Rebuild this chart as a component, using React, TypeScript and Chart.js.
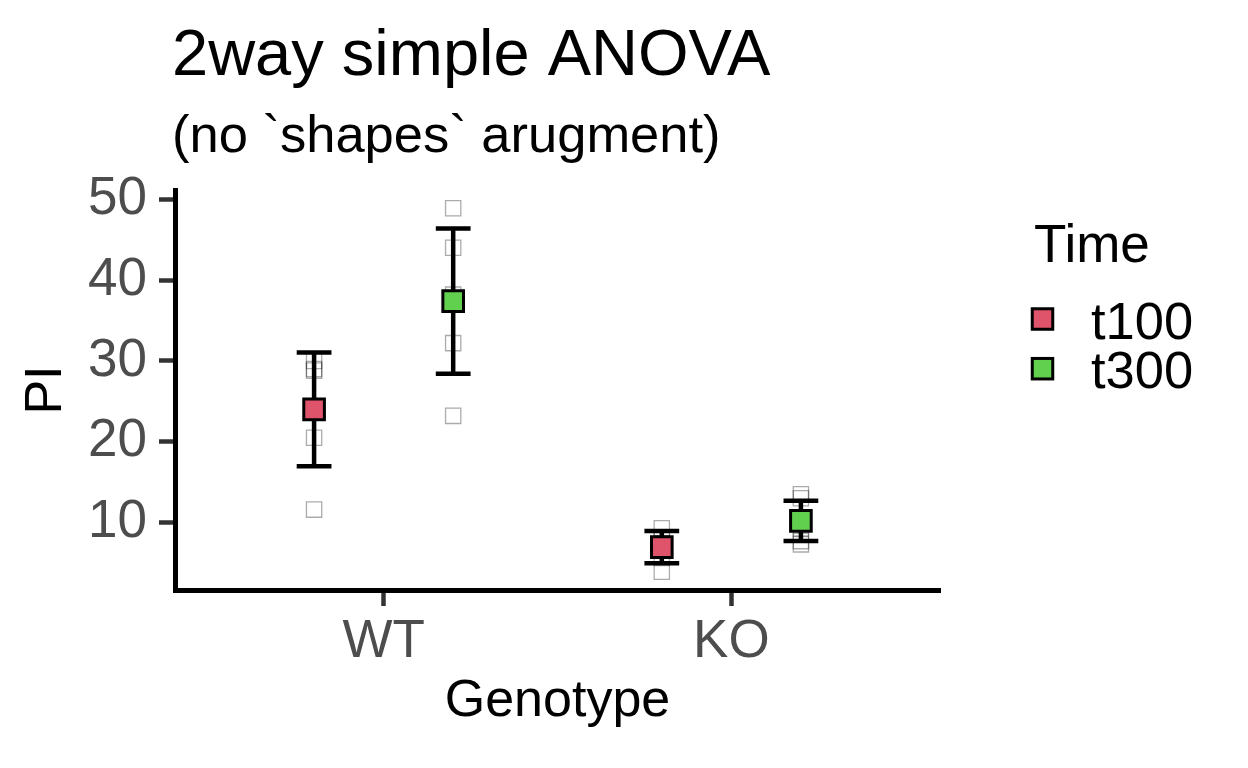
import React, { useEffect, useRef } from 'react';
import { Chart, registerables } from 'chart.js';

Chart.register(...registerables);

// ---- text ----
const titleText = '2way simple ANOVA';
const subtitleText = '(no `shapes` arugment)';
const xTitle = 'Genotype';
const yTitle = 'PI';
const legendTitle = 'Time';

// ---- categories ----
const genotypes = ['WT', 'KO'];
const times = ['t100', 't300'];
const timeColors = ['#DF536B', '#61D04F'];
const yTicks = [10, 20, 30, 40, 50];

// ---- raw observations (per genotype) ----
const wtT100 = [30.0, 29.0, 28.8, 24.0, 20.5, 11.6];
const koT100 = [9.3, 8.0, 7.4, 6.5, 5.6, 3.9];
const wtT300 = [48.9, 44.0, 38.2, 37.4, 32.2, 23.2];
const koT300 = [13.5, 13.0, 10.5, 9.3, 7.7, 7.3];

// ---- group summaries (WT, KO) ----
const meanT100 = [24.0, 6.95];
const sdT100 = [7.05, 2.0];
const meanT300 = [37.4, 10.2];
const sdT300 = [9.0, 2.5];

// ---- axis limits ----
const yMin = 1.65;
const yMax = 51.15;
const xMin = 0.4;
const xMax = 2.6;

const FONT = '"Liberation Sans", Arial, sans-serif';
const DODGE = [-0.2, 0.2];
const CAP = 0.05;

const rawByTime = [
  [wtT100, koT100],
  [wtT300, koT300],
];
const meanByTime = [meanT100, meanT300];
const sdByTime = [sdT100, sdT300];

function buildDatasets() {
  const ds: any[] = [];
  times.forEach((t, ti) => {
    ds.push({
      label: t,
      data: genotypes.map((g, gi) => ({ x: gi + 1 + DODGE[ti], y: meanByTime[ti][gi] })),
      pointStyle: 'rect',
      pointRadius: 14.6,
      pointHoverRadius: 14.6,
      backgroundColor: timeColors[ti],
      borderColor: '#000000',
      borderWidth: 3,
      showLine: false,
      order: 0,
    });
  });
  times.forEach((t, ti) => {
    const pts: any[] = [];
    genotypes.forEach((g, gi) => {
      const xc = gi + 1 + DODGE[ti];
      const hi = meanByTime[ti][gi] + sdByTime[ti][gi];
      const lo = meanByTime[ti][gi] - sdByTime[ti][gi];
      pts.push({ x: xc - CAP, y: hi }, { x: xc + CAP, y: hi }, { x: xc, y: null });
      pts.push({ x: xc, y: hi }, { x: xc, y: lo }, { x: xc, y: null });
      pts.push({ x: xc - CAP, y: lo }, { x: xc + CAP, y: lo }, { x: xc, y: null });
    });
    ds.push({
      label: t + ' sd',
      data: pts,
      showLine: true,
      spanGaps: false,
      pointRadius: 0,
      pointHoverRadius: 0,
      borderColor: '#000000',
      borderWidth: 4.5,
      borderCapStyle: 'butt',
      fill: false,
      order: 1,
    });
  });
  times.forEach((t, ti) => {
    const pts: any[] = [];
    genotypes.forEach((g, gi) => {
      rawByTime[ti][gi].forEach((v) => pts.push({ x: gi + 1 + DODGE[ti], y: v }));
    });
    ds.push({
      label: t + ' raw',
      data: pts,
      pointStyle: 'rect',
      pointRadius: 10.8,
      pointHoverRadius: 10.8,
      backgroundColor: 'rgba(0,0,0,0)',
      borderColor: 'rgba(0,0,0,0.33)',
      borderWidth: 1.3,
      showLine: false,
      order: 2,
    });
  });
  return ds;
}

const textPlugin = {
  id: 'textPlugin',
  afterDraw(chart: any) {
    const ctx = chart.ctx;
    ctx.save();
    ctx.fillStyle = '#000000';
    ctx.textAlign = 'left';
    ctx.textBaseline = 'alphabetic';
    ctx.font = `65px ${FONT}`;
    ctx.fillText(titleText, 172, 74.5);
    ctx.font = `52.5px ${FONT}`;
    ctx.fillText(subtitleText, 172, 152);

    // legend
    ctx.font = `53px ${FONT}`;
    ctx.fillText(legendTitle, 1034, 262);
    const keyCenters = [319, 368.7];
    times.forEach((t, ti) => {
      const cy = keyCenters[ti];
      const side = 20.5;
      ctx.fillStyle = timeColors[ti];
      ctx.fillRect(1042.5 - side / 2, cy - side / 2, side, side);
      ctx.lineWidth = 3;
      ctx.strokeStyle = '#000000';
      ctx.strokeRect(1042.5 - side / 2, cy - side / 2, side, side);
      ctx.fillStyle = '#000000';
      ctx.font = `52.5px ${FONT}`;
      ctx.fillText(t, 1091, cy + 19.5);
    });
    ctx.restore();
  },
};

export default function App() {
  const ref = useRef<HTMLCanvasElement | null>(null);
  useEffect(() => {
    if (!ref.current) return;
    Chart.defaults.font.family = FONT;
    const chart = new Chart(ref.current, {
      type: 'scatter',
      data: { datasets: buildDatasets() },
      options: {
        animation: false,
        responsive: false,
        devicePixelRatio: 1,
        events: [],
        layout: { padding: { top: 190, right: 308, left: 0, bottom: 0 } },
        plugins: {
          legend: { display: false },
          title: { display: false },
          tooltip: { enabled: false },
        },
        scales: {
          x: {
            type: 'linear',
            min: xMin,
            max: xMax,
            afterBuildTicks: (axis: any) => {
              axis.ticks = genotypes.map((g, i) => ({ value: i + 1 }));
            },
            afterFit: (axis: any) => {
              axis.height = 178;
            },
            ticks: {
              callback: (v: any) => genotypes[Math.round(Number(v)) - 1] ?? '',
              font: { size: 53, family: FONT },
              color: '#4D4D4D',
              padding: 5,
              maxRotation: 0,
              autoSkip: false,
            },
            grid: {
              drawOnChartArea: false,
              drawTicks: true,
              tickLength: 16,
              tickWidth: 4.5,
              tickColor: '#333333',
            },
            border: { display: true, color: '#000000', width: 5 },
            title: {
              display: true,
              text: xTitle,
              color: '#000000',
              font: { size: 52, family: FONT },
              padding: { top: 0, bottom: 35 },
            },
          },
          y: {
            type: 'linear',
            min: yMin,
            max: yMax,
            afterBuildTicks: (axis: any) => {
              axis.ticks = yTicks.map((v) => ({ value: v }));
            },
            afterFit: (axis: any) => {
              axis.width = 175;
            },
            ticks: {
              font: { size: 53, family: FONT },
              color: '#4D4D4D',
              padding: 12,
            },
            grid: {
              drawOnChartArea: false,
              drawTicks: true,
              tickLength: 16,
              tickWidth: 4.5,
              tickColor: '#333333',
            },
            border: { display: true, color: '#000000', width: 5 },
            title: {
              display: true,
              text: yTitle,
              color: '#000000',
              font: { size: 52, family: FONT },
              padding: { top: 15, bottom: 0 },
            },
          },
        },
      } as any,
      plugins: [textPlugin],
    });
    return () => chart.destroy();
  }, []);
  return (
    <div style={{ position: 'fixed', left: 0, top: 0, width: 1248, height: 768, background: '#ffffff' }}>
      <canvas ref={ref} width={1248} height={768} style={{ display: 'block', width: 1248, height: 768 }} />
    </div>
  );
}
